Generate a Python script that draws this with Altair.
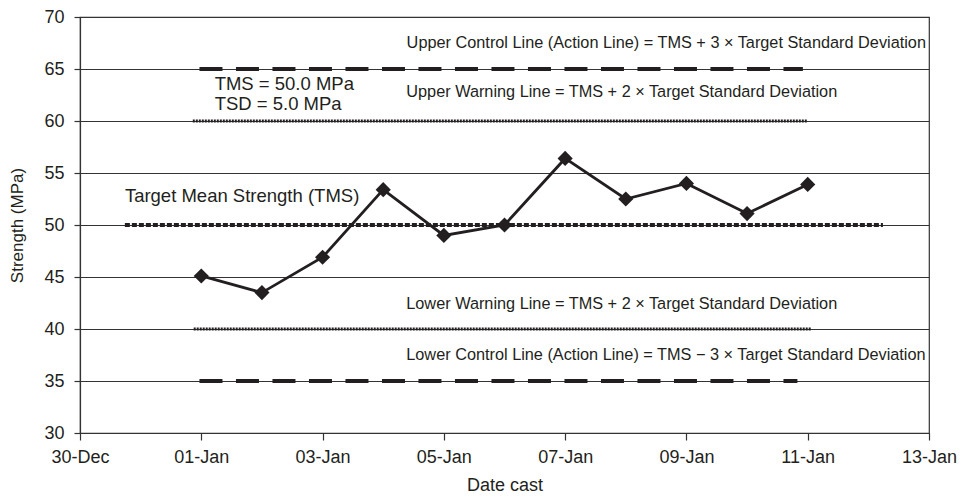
import altair as alt
import pandas as pd

# ---------------- data ----------------
cast_dates = ["2024-01-01", "2024-01-02", "2024-01-03", "2024-01-04", "2024-01-05",
              "2024-01-06", "2024-01-07", "2024-01-08", "2024-01-09", "2024-01-10",
              "2024-01-11"]
strength = [45.1, 43.5, 46.9, 53.4, 49.0, 50.0, 56.4, 52.5, 54.0, 51.1, 53.9]

# reference lines (value, start / end as day offsets from 30-Dec)
ref_names = ["UCL", "UWL", "TMS", "LWL", "LCL"]
ref_values = [65, 60, 50, 40, 35]
ref_styles = ["control", "warning", "mean", "warning", "control"]
ref_start_day = [1.97, 1.86, 0.74, 1.875, 1.97]
ref_end_day = [11.92, 11.99, 13.24, 12.06, 11.83]

# annotations
ann_texts = [
    "Upper Control Line (Action Line) = TMS + 3 \u00d7 Target Standard Deviation",
    "TMS = 50.0 MPa",
    "TSD = 5.0 MPa",
    "Upper Warning Line = TMS + 2 \u00d7 Target Standard Deviation",
    "Target Mean Strength (TMS)",
    "Lower Warning Line = TMS + 2 \u00d7 Target Standard Deviation",
    "Lower Control Line (Action Line) = TMS \u2212 3 \u00d7 Target Standard Deviation",
]
ann_day = [13.95, 2.22, 2.22, 5.38, 0.74, 5.38, 5.38]
ann_value = [67.5, 63.6, 61.6, 62.8, 52.8, 42.4, 37.5]
ann_align = ["right", "left", "left", "left", "left", "left", "left"]
ann_size = [16.3, 18.5, 18.5, 16.3, 18.5, 16.3, 16.3]

x_tick_dates = ["2023-12-30", "2024-01-01", "2024-01-03", "2024-01-05", "2024-01-07",
                "2024-01-09", "2024-01-11", "2024-01-13"]
y_ticks = [30, 35, 40, 45, 50, 55, 60, 65, 70]

# ---------------- helpers ----------------
BASE = pd.Timestamp("2023-12-30")


def iso(ts):
    return ts.strftime("%Y-%m-%dT%H:%M:%SZ")


def day_to_iso(d):
    return iso(BASE + pd.to_timedelta(d, unit="D"))


def dt(s):
    t = pd.Timestamp(s)
    return alt.DateTime(year=t.year, month=t.month, date=t.day, utc=True)


pts = pd.DataFrame({"date": [iso(pd.Timestamp(d)) for d in cast_dates],
                    "strength": strength})

refs = pd.DataFrame({
    "name": ref_names,
    "value": ref_values,
    "style": ref_styles,
    "start": [day_to_iso(d) for d in ref_start_day],
    "end": [day_to_iso(d) for d in ref_end_day],
})

ann = pd.DataFrame({
    "text": ann_texts,
    "date": [day_to_iso(d) for d in ann_day],
    "value": ann_value,
    "align": ann_align,
    "size": ann_size,
})

INK = "#231f20"
FONT = "Liberation Sans"

x_scale = alt.Scale(type="utc", domain=[dt(x_tick_dates[0]), dt(x_tick_dates[-1])], nice=False)
y_scale = alt.Scale(domain=[30, 70], nice=False, zero=False)

x_axis = alt.Axis(values=[dt(d) for d in x_tick_dates],
                  labelExpr="utcFormat(datum.value, '%d-%b')",
                  title="Date cast", grid=False, tickSize=7, labelPadding=8,
                  titlePadding=10, labelAngle=0, labelFlush=False)
y_axis = alt.Axis(values=y_ticks, title="Strength (MPa)", grid=True, tickSize=6,
                  labelPadding=10, titlePadding=17, titleFontSize=17)

# base layer establishing axes
base = alt.Chart(pts).mark_line(color=INK, strokeWidth=2.8).encode(
    x=alt.X("date:T", scale=x_scale, axis=x_axis),
    y=alt.Y("strength:Q", scale=y_scale, axis=y_axis),
)

points = alt.Chart(pts).mark_point(shape="diamond", filled=True, size=230, color=INK,
                                   opacity=1).encode(
    x="date:T", y="strength:Q"
)


def ref_layer(style, dash, width):
    return alt.Chart(refs).transform_filter(alt.datum.style == style).mark_rule(
        color=INK, strokeWidth=width, strokeDash=dash
    ).encode(
        x="start:T", x2="end:T", y="value:Q"
    )


control = ref_layer("control", [23, 13.5], 4)
warning = ref_layer("warning", [2, 1], 3)
mean = ref_layer("mean", [5, 2], 4)


def text_layer(align):
    return alt.Chart(ann).transform_filter(alt.datum.align == align).mark_text(
        align=align, baseline="middle", font=FONT, color=INK
    ).encode(
        x="date:T", y="value:Q", text="text:N",
        size=alt.Size("size:Q", scale=None, legend=None),
    )


chart = alt.layer(
    control, warning, mean, base, points, text_layer("left"), text_layer("right")
).properties(
    width=849, height=416,
    autosize=alt.AutoSizeParams(type="none"),
    padding={"left": 72, "top": 9, "right": 28, "bottom": 63},
    background="white",
).configure_axis(
    labelFont=FONT, titleFont=FONT, labelFontSize=18, titleFontSize=18,
    labelColor=INK, titleColor=INK, titleFontWeight="normal",
    domainColor="#333", tickColor="#333", gridColor="#333",
    gridWidth=1, domainWidth=1.2, tickWidth=1.2, gridOpacity=1,
).configure_view(
    stroke="#333", strokeWidth=1.2
)

chart.save("out.html", embed_options={"renderer": "svg", "actions": False})
